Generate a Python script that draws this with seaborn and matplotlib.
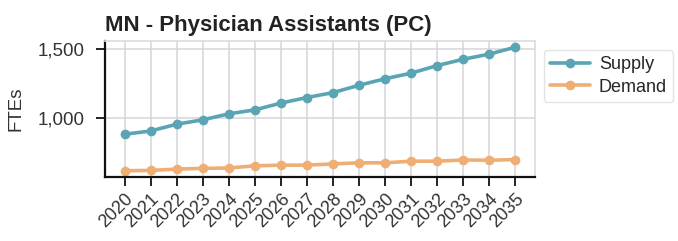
import pandas as pd
import matplotlib.pyplot as plt
import seaborn as sns

# --- Data ---
years = list(range(2020, 2036))
supply = [877, 901, 951, 983, 1027, 1056, 1106, 1147, 1183, 1237,
          1285, 1326, 1382, 1428, 1466, 1517]
demand = [609, 611, 621, 626, 629, 645, 650, 650, 659, 667,
          667, 679, 679, 688, 686, 691]

SUPPLY_COLOR = "#5aa5b4"
DEMAND_COLOR = "#eeae74"

df = pd.DataFrame({
    "Year": years * 2,
    "FTEs": supply + demand,
    "Series": ["Supply"] * len(years) + ["Demand"] * len(years),
})

sns.set_theme(style="whitegrid")
plt.rcParams["font.family"] = ["Liberation Sans", "DejaVu Sans"]

fig = plt.figure(figsize=(6.78, 2.41), dpi=100)
ax = fig.add_axes([0.155, 0.266, 0.634, 0.564])

sns.lineplot(data=df, x="Year", y="FTEs", hue="Series", marker="o",
             palette={"Supply": SUPPLY_COLOR, "Demand": DEMAND_COLOR},
             linewidth=2.6, markersize=7, markeredgewidth=0, ax=ax)

ax.set_xticks(years)
ax.set_xticklabels([str(y) for y in years], rotation=45, ha="right",
                   rotation_mode="anchor", fontsize=13, color="#333333")
ax.yaxis.set_major_formatter(plt.FuncFormatter(lambda v, p: f"{v:,.0f}"))
ax.set_yticks([1000, 1500])
ax.tick_params(axis="y", labelsize=13.5, labelcolor="#333333", pad=8)
ax.tick_params(axis="both", which="major", length=6.5, width=1.4, color="#222222",
               bottom=True, left=True)
ax.set_xlabel("")
ax.set_ylabel("FTEs", fontsize=13.5, color="#333333", labelpad=10)
ax.set_title("MN - Physician Assistants (PC)", fontsize=16, fontweight="bold",
             loc="left", x=0.0, pad=7, color="#222222")

ax.grid(True, color="#d6d4da", linewidth=1.1)
for side in ["left", "bottom"]:
    ax.spines[side].set_color("#111111")
    ax.spines[side].set_linewidth(1.6)
for side in ["top", "right"]:
    ax.spines[side].set_color("#dddddd")

ax.legend(loc="upper left", bbox_to_anchor=(1.012, 0.96), fontsize=13,
          frameon=True, edgecolor="#dddddd", handlelength=2.2,
          handletextpad=0.5, borderpad=0.35, borderaxespad=0.2,
          labelspacing=0.3)

fig.savefig("out.png", dpi=100)
